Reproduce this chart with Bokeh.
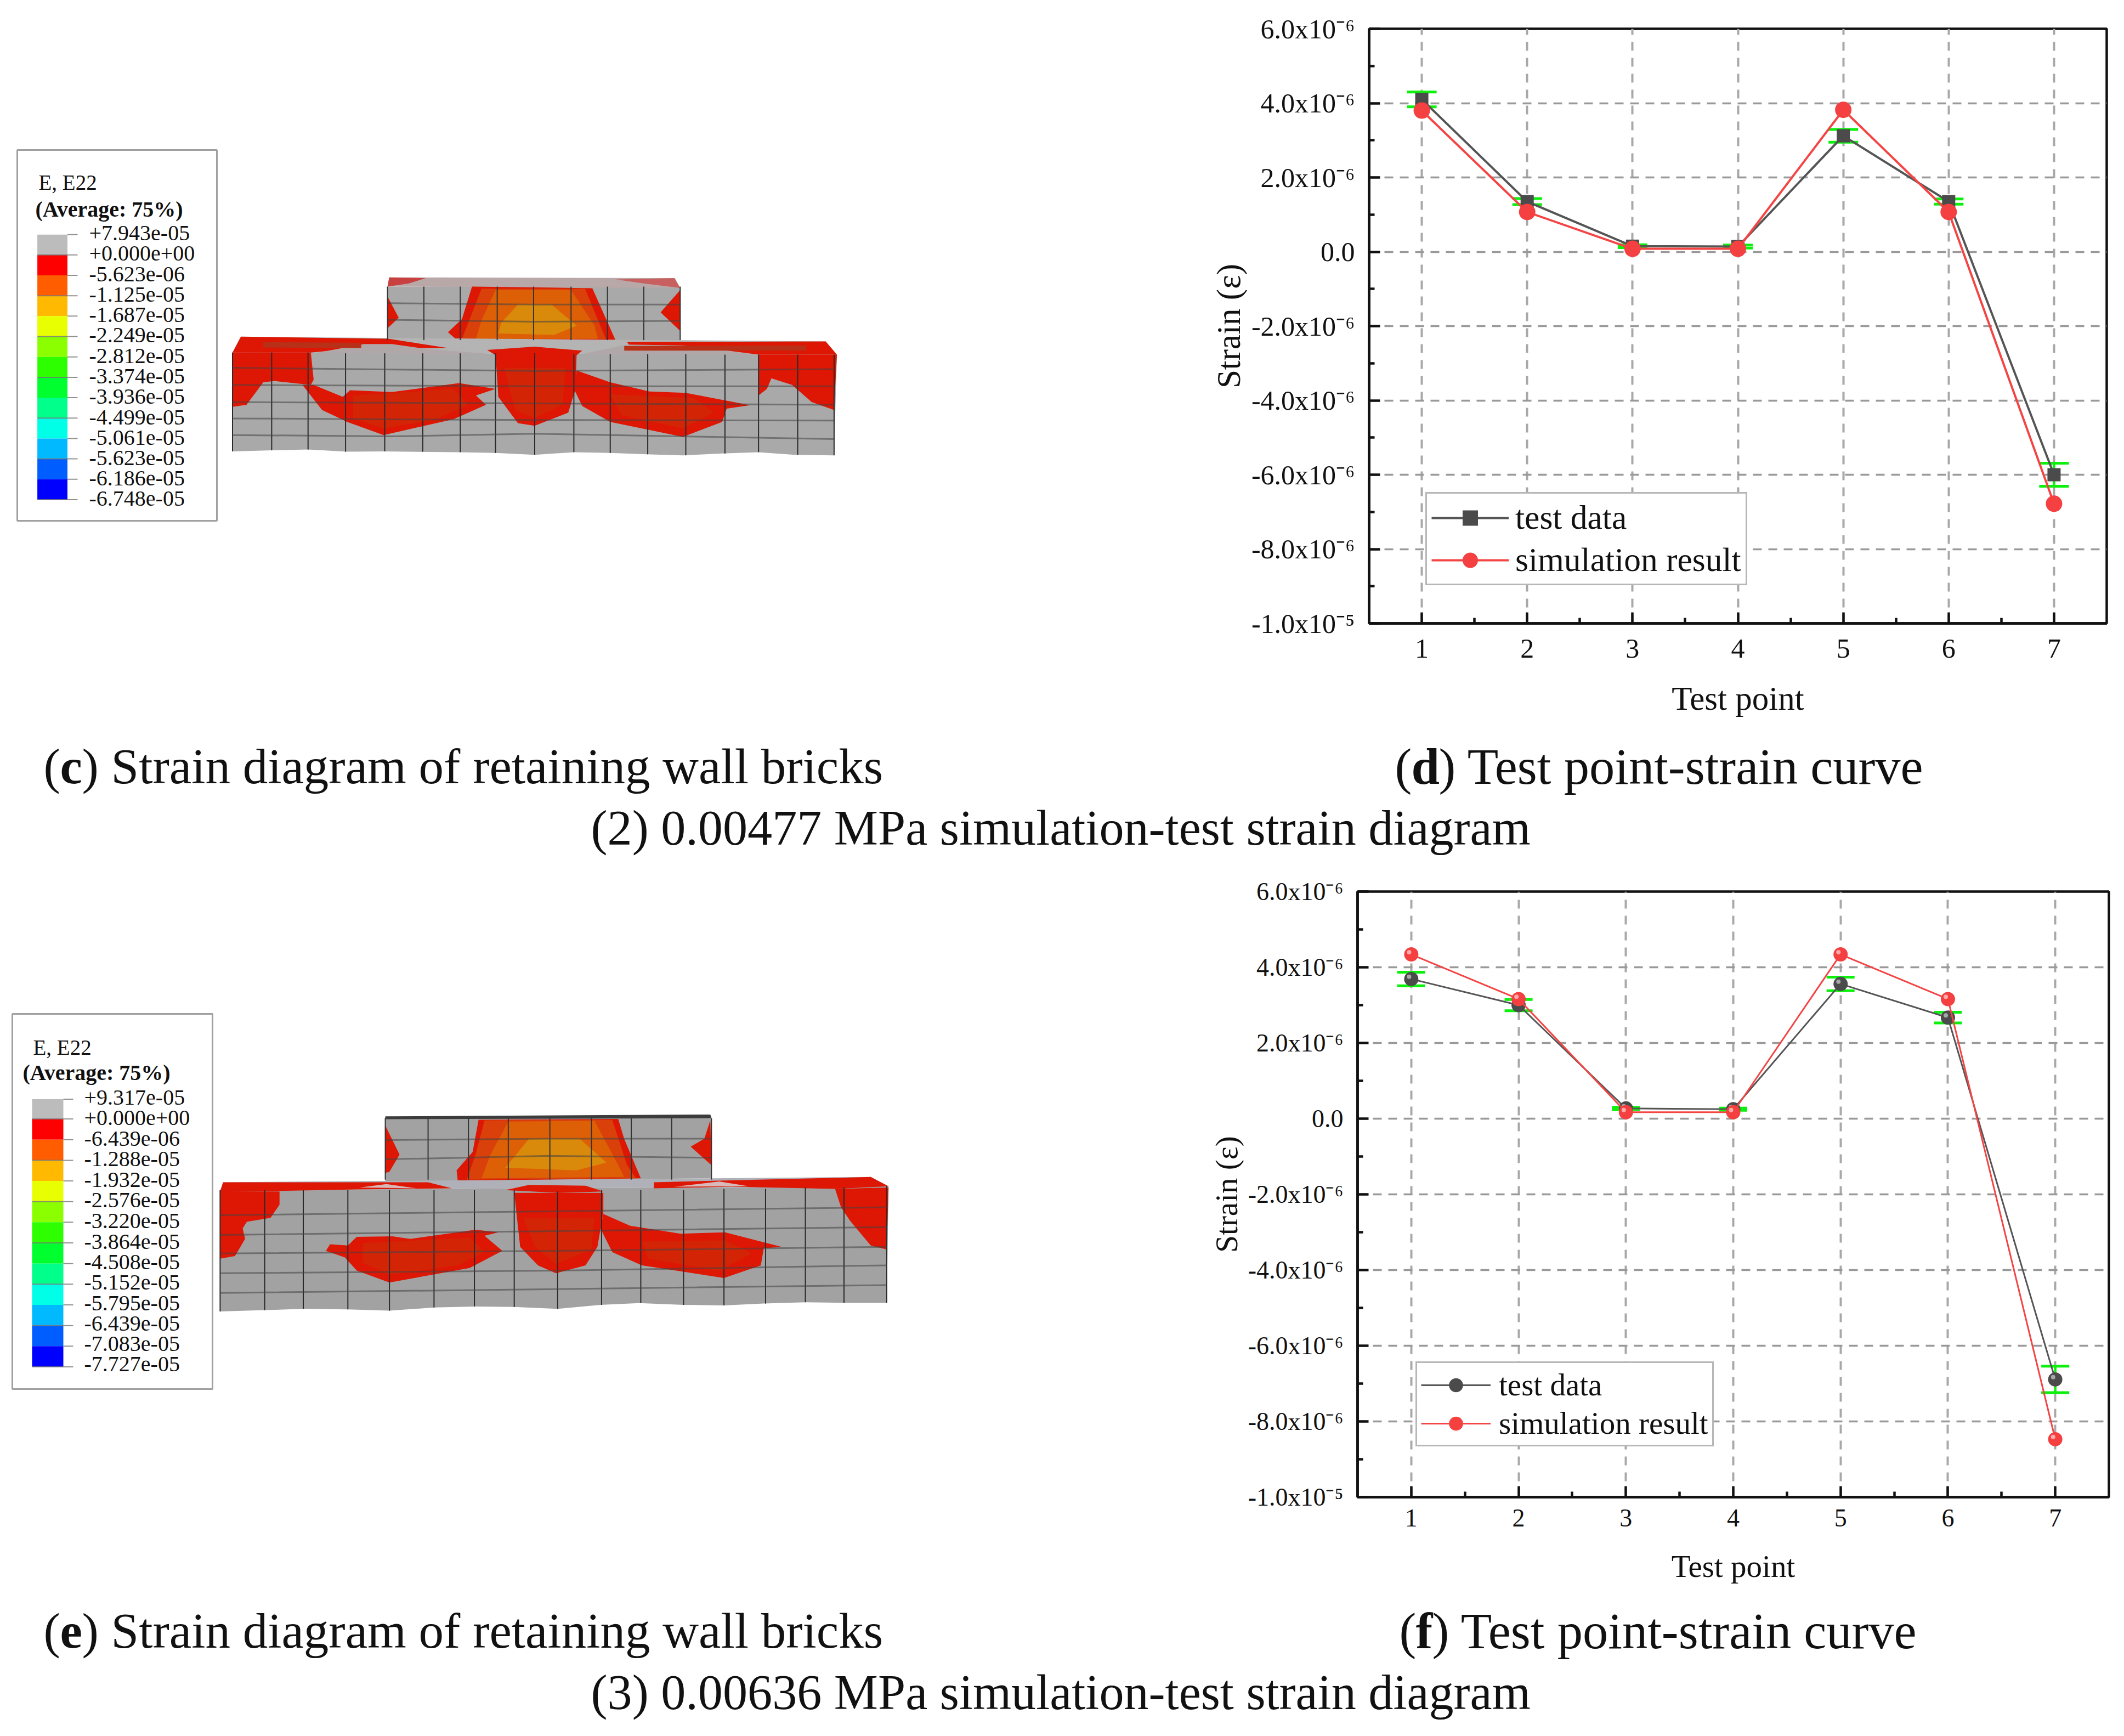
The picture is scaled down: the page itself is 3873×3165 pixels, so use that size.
from bokeh.plotting import figure
from bokeh.layouts import column, row
from bokeh.models import (ColumnDataSource, FixedTicker, Legend, LegendItem, Range1d, Whisker, TeeHead)
from bokeh.core.properties import value
from bokeh.transform import dodge
from bokeh.embed import file_html
from bokeh.resources import INLINE

# ---------- chart data (values in units of 1e-6) ----------
test_points = [1, 2, 3, 4, 5, 6, 7]
d_test = [4.10, 1.35, 0.15, 0.14, 3.12, 1.35, -6.00]
d_err = [0.20, 0.08, 0.04, 0.04, 0.17, 0.07, 0.31]
d_sim = [3.80, 1.07, 0.08, 0.08, 3.82, 1.07, -6.78]
f_test = [3.69, 3.00, 0.27, 0.25, 3.56, 2.67, -6.89]
f_err = [0.18, 0.15, 0.03, 0.03, 0.18, 0.14, 0.35]
f_sim = [4.34, 3.16, 0.17, 0.17, 4.34, 3.16, -8.47]
y_ticks = [-10, -8, -6, -4, -2, 0, 2, 4, 6]
y_minor = [-9, -7, -5, -3, -1, 1, 3, 5]
x_minor = [1.5, 2.5, 3.5, 4.5, 5.5, 6.5]
y_labels = ["-1.0x10⁻⁵", "-8.0x10⁻⁶", "-6.0x10⁻⁶", "-4.0x10⁻⁶", "-2.0x10⁻⁶", "0.0",
            "2.0x10⁻⁶", "4.0x10⁻⁶", "6.0x10⁻⁶"]

# ---------- contour legends ----------
c_labels = ["+7.943e-05", "+0.000e+00", "-5.623e-06", "-1.125e-05", "-1.687e-05", "-2.249e-05", "-2.812e-05",
            "-3.374e-05", "-3.936e-05", "-4.499e-05", "-5.061e-05", "-5.623e-05", "-6.186e-05", "-6.748e-05"]
e_labels = ["+9.317e-05", "+0.000e+00", "-6.439e-06", "-1.288e-05", "-1.932e-05", "-2.576e-05", "-3.220e-05",
            "-3.864e-05", "-4.508e-05", "-5.152e-05", "-5.795e-05", "-6.439e-05", "-7.083e-05", "-7.727e-05"]
contour = ["#bcbcbc", "#ff0000", "#ff5d00", "#ffb900", "#e7ff00", "#8bff00", "#2eff00", "#00ff2e",
           "#00ff8b", "#00ffe7", "#00b9ff", "#005dff", "#0000ff"]

# ---------- brick illustration outlines ----------
GRAY_C, GRAY_E = "#a9a9a9", "#a2a2a2"
RED, RED2, OR1, OR2, OR3 = "#de1604", "#d42406", "#d9400a", "#de6006", "#d98a0a"

c_shapes = [
    ([(692,572),(1215,575),(1215,778),(692,772)], GRAY_C),
    ([(695,537),(1205,540),(1215,577),(692,572)], "#b8a8a8"),
    ([(695,537),(760,540),(730,560),(692,572)], "#c84040"),
    ([(1100,545),(1205,540),(1215,577),(1150,560)], "#c86060"),
    ([(843,572),(1058,578),(1100,778),(815,772),(800,745),(825,695)], RED),
    ([(860,580),(1045,580),(1082,770),(825,770),(838,700)], OR1),
    ([(885,585),(1020,585),(1062,720),(1068,770),(850,770),(860,700)], OR2),
    ([(925,640),(985,640),(1030,720),(990,755),(890,750),(895,710)], OR3),
    ([(692,610),(712,690),(692,730)], RED),
    ([(1215,585),(1180,670),(1215,740)], RED),
    ([(430,762),(1475,780),(1495,830),(415,822)], "#b4b4b4"),
    ([(415,822),(1495,830),(1490,1212),(1420,1210),(1355,1200),(1290,1205),(1220,1212),(1155,1208),(1090,1203),(1025,1200),(955,1210),(885,1203),(820,1200),(685,1197),(620,1198),(550,1190),(485,1193),(415,1197)], GRAY_C),
    ([(430,762),(695,770),(800,805),(640,805),(555,822),(415,822)], RED),
    ([(560,825),(650,790),(700,790),(760,808),(880,828)], "#b0a8a8"),
    ([(870,812),(955,800),(1040,815),(1030,832),(885,832)], RED),
    ([(1120,782),(1475,780),(1495,830),(1355,830),(1300,815),(1130,812)], RED),
    ([(1040,828),(1120,792),(1220,795),(1350,830)], "#b0a8a8"),
    ([(470,782),(645,785),(645,805),(470,803)], "#b83018"),
    ([(1115,797),(1440,795),(1440,815),(1115,815)], "#b83018"),
    ([(415,822),(555,822),(560,925),(555,945),(490,930),(470,935),(440,1020),(415,1028)], RED),
    ([(540,945),(560,945),(612,990),(625,965),(700,972),(820,938),(885,960),(850,985),(868,1020),(810,1075),(685,1135),(620,1085),(575,1040)], RED),
    ([(630,985),(810,960),(835,1020),(780,1075),(685,1110),(630,1070)], RED2),
    ([(885,825),(1030,825),(1028,960),(1015,1050),(955,1100),(925,1090),(890,990)], RED),
    ([(900,880),(1010,880),(1005,1020),(955,1070),(920,1040)], RED2),
    ([(1030,890),(1090,935),(1160,970),(1225,975),(1340,1022),(1298,1035),(1290,1085),(1220,1142),(1090,1085),(1040,1025),(1025,960)], RED),
    ([(1090,980),(1240,995),(1275,1050),(1220,1110),(1110,1060)], RED2),
    ([(1355,830),(1495,830),(1490,1040),(1450,1010),(1415,945),(1378,920),(1370,960),(1355,985)], RED),
]
c_verts_upper = [692, 757, 822, 888, 953, 1020, 1085, 1150, 1215]
c_rows_upper = [[(692,635),(953,640),(1215,640)], [(692,698),(953,705),(1215,702)]]
c_upper_span = (572, 775)
c_verts_lower = [415,485,550,617,687,755,822,885,955,1025,1090,1157,1225,1295,1355,1425,1490]
c_vert_tops = [822,822,822,825,825,825,825,825,825,828,828,828,828,830,830,830,830]
c_vert_bots = [1197,1193,1190,1198,1197,1198,1200,1203,1210,1200,1203,1208,1212,1205,1200,1210,1212]
c_rows_lower = [[(415,880),(955,892),(1490,885)], [(415,945),(955,950),(1490,950)], [(415,1010),(955,1015),(1490,1020)],
                [(415,1072),(955,1078),(1490,1080)], [(415,1135),(700,1140),(955,1130),(1490,1150)]]

e_shapes = [
    ([(648,462),(1197,460),(1197,690),(648,702)], GRAY_E),
    ([(648,455),(1195,448),(1197,462),(648,466)], "#3c3c3c"),
    ([(805,468),(1040,465),(1050,540),(1078,690),(770,700),(768,660),(795,590)], RED),
    ([(815,470),(1030,468),(1055,640),(1070,690),(785,695),(800,600)], OR1),
    ([(855,475),(1000,472),(1040,640),(1050,685),(810,690),(825,600)], OR2),
    ([(890,540),(975,540),(1020,630),(970,660),(850,650)], OR3),
    ([(648,490),(672,600),(655,665),(648,670)], RED),
    ([(1195,470),(1185,540),(1162,570),(1197,640)], RED),
    ([(375,705),(1465,685),(1495,720),(370,735)], "#b0b0b8"),
    ([(370,735),(1495,720),(1492,1162),(1420,1162),(1355,1160),(1285,1165),(1218,1172),(1150,1170),(1075,1163),(1010,1170),(938,1185),(865,1178),(800,1176),(730,1180),(655,1192),(585,1187),(510,1185),(445,1190),(370,1195)], GRAY_E),
    ([(375,705),(720,705),(760,728),(600,732),(370,742)], RED),
    ([(605,725),(650,712),(700,728)], "#d8b8b8"),
    ([(850,735),(890,715),(985,718),(1015,740),(940,745)], RED),
    ([(1100,705),(1465,685),(1495,720),(1405,730),(1230,722),(1100,728)], RED),
    ([(1135,722),(1210,702),(1260,720)], "#d8b8b8"),
    ([(370,740),(470,740),(470,790),(455,840),(415,855),(408,880),(412,920),(395,985),(370,995)], RED),
    ([(548,965),(555,940),(585,945),(600,912),(660,910),(690,920),(800,885),(838,895),(815,908),(845,965),(790,1030),(655,1085),(600,1040),(580,990)], RED),
    ([(610,935),(790,915),(815,970),(770,1020),(655,1055),(610,1010)], RED2),
    ([(865,745),(1015,745),(1015,820),(1005,950),(985,1020),(935,1050),(905,1020),(875,950)], RED),
    ([(880,840),(1000,840),(995,960),(935,1015),(900,950)], RED2),
    ([(1015,825),(1060,870),(1145,900),(1220,895),(1315,950),(1285,955),(1280,1020),(1218,1068),(1080,1020),(1030,970),(1010,880)], RED),
    ([(1080,930),(1220,925),(1265,975),(1210,1040),(1090,995)], RED2),
    ([(1405,730),(1495,725),(1492,960),(1465,945),(1430,850),(1415,800)], RED),
]
e_verts_upper = [648, 720, 788, 855, 925, 995, 1062, 1130, 1197]
e_rows_upper = [[(648,545),(925,540),(1197,540)], [(648,618),(925,605),(1197,612)]]
e_upper_span = (462, 695)
e_verts_lower = [370,445,510,585,655,730,798,865,938,1012,1078,1150,1218,1288,1355,1420,1492]
e_vert_tops = [735,735,735,735,735,735,735,735,740,735,735,735,730,730,725,725,720]
e_vert_bots = [1195,1190,1185,1187,1192,1180,1176,1178,1185,1170,1163,1170,1172,1165,1160,1162,1162]
e_rows_lower = [[(370,830),(938,815),(1492,800)], [(370,905),(938,890),(1492,875)], [(370,975),(938,965),(1492,950)],
                [(370,1050),(938,1040),(1492,1020)], [(370,1125),(938,1110),(1492,1095)]]

caption_c = ["(", "c", ") Strain diagram of retaining wall bricks"]
caption_d = ["(", "d", ") Test point-strain curve"]
caption_e = ["(", "e", ") Strain diagram of retaining wall bricks"]
caption_f = ["(", "f", ") Test point-strain curve"]
caption_2 = "(2) 0.00477 MPa simulation-test strain diagram"
caption_3 = "(3) 0.00636 MPa simulation-test strain diagram"

SERIF = value("Liberation Serif")
LEFT_W = 2200
TOTAL_W = 3870


def canvas(w, h, y_top, y_bottom, border_top, border_bottom):
    p = figure(width=w, height=h, x_range=Range1d(0, w), y_range=Range1d(y_bottom, y_top),
               toolbar_location=None, output_backend="svg", min_border=0,
               min_border_left=0, min_border_right=0, min_border_top=border_top, min_border_bottom=border_bottom)
    p.xaxis.visible = False
    p.yaxis.visible = False
    p.grid.visible = False
    p.outline_line_color = None
    return p


def say(p, x, y, s, size, style="normal", baseline="alphabetic"):
    p.text(x=[x], y=[y], text=[s], text_font=SERIF, text_font_size=value(f"{size}px"), text_line_height=1.0,
           text_font_style=style, text_baseline=baseline, text_align="left", text_color="#111111")


def panel(y0, y1, frame_top, frame_bottom, sx, oy, sy, box, bar, tick_end, label_x, label_ys, labels, head, shapes,
          vu, ru, span, vl, tops, bots, rl):
    p = canvas(LEFT_W, y1 - y0, frame_top, frame_bottom, frame_top - y0, y1 - frame_bottom)
    fx = lambda v: v / sx
    fy = lambda v: oy + v / sy
    p.quad(left=[box[0]], right=[box[1]], top=[box[2]], bottom=[box[3]], fill_color="white",
           line_color="#a0a0a0", line_width=3)
    say(p, *head[0], "E, E22", 39)
    say(p, *head[1], "(Average: 75%)", 40, "bold")
    cy = [fy(v) for v in bar[2]]
    for i, col in enumerate(contour):
        p.quad(left=[bar[0]], right=[bar[1]], top=[cy[i]], bottom=[cy[i + 1]], fill_color=col, line_color=None)
    for i, yy in enumerate(cy):
        p.segment(x0=[bar[1] if i % 2 == 0 else bar[0]], x1=[tick_end], y0=[yy], y1=[yy],
                  line_color="#777777", line_width=2, line_alpha=0.8)
    for yy, s in zip(label_ys, labels):
        say(p, label_x, fy(yy), s, 40, baseline="middle")
    for pts, col in shapes:
        p.patch([fx(a) for a, _ in pts], [fy(b) for _, b in pts], fill_color=col, line_color=None)
    for v in vu:
        p.line([fx(v), fx(v)], [fy(span[0]), fy(span[1])], line_color="#333333", line_width=2)
    for r in ru:
        p.line([fx(a) for a, _ in r], [fy(b) for _, b in r], line_color="#444444", line_width=3, line_alpha=0.55)
    for v, t, b in zip(vl, tops, bots):
        p.line([fx(v), fx(v)], [fy(t), fy(b)], line_color="#2a2a2a", line_width=2)
    for r in rl:
        p.line([fx(a) for a, _ in r], [fy(b) for _, b in r], line_color="#444444", line_width=3, line_alpha=0.55)
    return p


def chart(y0, y1, frame, test, err, sim, marker, msize, lw, font, title_font, legend_cfg, shiny, xstand, ystand):
    x_left, x_right, y_top, y_bottom = frame
    p = figure(width=TOTAL_W - LEFT_W, height=y1 - y0, x_range=Range1d(0.5, 7.5), y_range=Range1d(-10, 6),
               toolbar_location=None, output_backend="svg",
               min_border_left=x_left - LEFT_W, min_border_right=TOTAL_W - x_right,
               min_border_top=y_top - y0, min_border_bottom=y1 - y_bottom)
    p.outline_line_color = "#111111"
    p.outline_line_width = 4.5
    p.background_fill_color = "white"
    p.xaxis.ticker = FixedTicker(ticks=test_points, minor_ticks=x_minor)
    p.yaxis.ticker = FixedTicker(ticks=y_ticks, minor_ticks=y_minor)
    p.yaxis.major_label_overrides = dict(zip(y_ticks, y_labels))
    for ax in (p.xaxis[0], p.yaxis[0]):
        ax.major_tick_in, ax.major_tick_out = 20, 0
        ax.minor_tick_in, ax.minor_tick_out = 10, 0
        ax.major_tick_line_width = 4.5
        ax.minor_tick_line_width = 4.5
        ax.major_tick_line_color = "#111111"
        ax.minor_tick_line_color = "#111111"
        ax.axis_line_color = "#111111"
        ax.axis_line_width = 4.5
        ax.major_label_text_font = "Liberation Serif"
        ax.major_label_text_font_size = f"{font}px"
        ax.major_label_text_color = "#111111"
        ax.axis_label_text_font = "Liberation Serif"
        ax.axis_label_text_font_size = f"{title_font}px"
        ax.axis_label_text_font_style = "normal"
        ax.axis_label_text_color = "#111111"
    p.xaxis.axis_label = "Test point"
    p.yaxis.axis_label = "Strain (ε)"
    p.xaxis.major_label_standoff = xstand
    p.yaxis.major_label_standoff = 26
    p.xaxis.axis_label_standoff = 38
    p.yaxis.axis_label_standoff = ystand
    p.xgrid.ticker = FixedTicker(ticks=test_points)
    p.ygrid.ticker = FixedTicker(ticks=y_ticks)
    p.xgrid.grid_line_color = "#a8a8a8"
    p.ygrid.grid_line_color = "#999999"
    p.xgrid.grid_line_width = 4
    p.ygrid.grid_line_width = 3.5
    p.xgrid.grid_line_dash = "16 13"
    p.ygrid.grid_line_dash = "16 12"

    src = ColumnDataSource(dict(x=test_points, test=test, sim=sim,
                                up=[a + b for a, b in zip(test, err)], lo=[a - b for a, b in zip(test, err)]))
    l1 = p.line("x", "test", source=src, line_color="#555555", line_width=lw)
    m1 = p.scatter("x", "test", source=src, marker=marker, size=msize[0], fill_color="#4b4b4b", line_color=None)
    if shiny:
        p.scatter(dodge("x", -0.02), dodge("test", 0.06), source=src, size=8, fill_color="#a8a8a8", line_color=None)
    l2 = p.line("x", "sim", source=src, line_color="#f44444", line_width=lw)
    m2 = p.scatter("x", "sim", source=src, marker="circle", size=msize[1], fill_color="#f44040", line_color=None)
    if shiny:
        p.scatter(dodge("x", -0.02), dodge("sim", 0.06), source=src, size=8, fill_color="#ffaaaa", line_color=None)
    head = lambda: TeeHead(size=msize[2], line_color="#0cf00c", line_width=5)
    p.add_layout(Whisker(source=src, base="x", upper="up", lower="lo", line_color="#0cf00c", line_width=4.5,
                         upper_head=head(), lower_head=head()))
    lg = Legend(items=[LegendItem(label="test data", renderers=[l1, m1]),
                       LegendItem(label="simulation result", renderers=[l2, m2])],
                location=legend_cfg["loc"], margin=0, padding=legend_cfg["pad"], spacing=legend_cfg["gap"],
                glyph_width=legend_cfg["gw"], glyph_height=legend_cfg["gh"], label_height=legend_cfg["gh"],
                label_standoff=legend_cfg["st"], label_text_font="Liberation Serif",
                label_text_font_size=f"{legend_cfg['fs']}px", label_text_color="#111111",
                border_line_color="#707070", border_line_width=3.5, background_fill_color="white",
                background_fill_alpha=1.0)
    p.add_layout(lg, "center")
    return p


def captions(y0, y1, left, right, mid, y_a, y_b, bold_w_left, bold_w_right, x_left, x_right, x_mid):
    p = canvas(TOTAL_W, y1 - y0, y0, y1, 0, 0)
    for parts, x, bw, fs in ((left, x_left, bold_w_left, 91), (right, x_right, bold_w_right, 92.5)):
        say(p, x, y_a, parts[0], fs)
        say(p, x + 30, y_a, parts[1], fs, "bold")
        say(p, x + 30 + bw, y_a, parts[2], fs)
    say(p, x_mid, y_b, mid, 90.2)
    return p


left1 = panel(0, 1340, 52, 1136, 0.98, 247, 2.08, (31, 395, 273, 949),
              (69 * 0.98, 125 * 0.98, [375, 452] + [452 + 77.33 * i for i in range(1, 13)]),
              141, 162, [370, 447, 525, 603, 680, 757, 835, 912, 990, 1068, 1145, 1222, 1298, 1375], c_labels,
              ((70, 332), (64, 381)), c_shapes, c_verts_upper, c_rows_upper, c_upper_span,
              c_verts_lower, c_vert_tops, c_vert_bots, c_rows_lower)
chart1 = chart(0, 1340, (2496, 3841, 52, 1136), d_test, d_err, d_sim, "square", (24, 30, 54), 4, 50, 61,
               dict(loc=(103, 69), pad=8, gap=6, gw=141, gh=70, st=12, fs=61.5), False, 29, 5)
cap1 = captions(1340, 1590, caption_c, caption_d, caption_2, 1397, 1509, 40, 50, 79, 2543, 1077)
left2 = panel(1590, 2920, 1625, 2729, 0.923, 1816, 2.08, (22, 387, 1848, 2532),
              (58, 115, [390, 465] + [465 + 78.33 * i for i in range(1, 13)]),
              133, 153, [383, 461, 540, 617, 695, 773, 852, 930, 1007, 1085, 1163, 1240, 1318, 1395], e_labels,
              ((60, 1909), (41, 1955)), e_shapes, e_verts_upper, e_rows_upper, e_upper_span,
              e_verts_lower, e_vert_tops, e_vert_bots, e_rows_lower)
chart2 = chart(1590, 2920, (2475, 3845, 1625, 2729), f_test, f_err, f_sim, "circle", (26, 26, 51), 3, 46, 57,
               dict(loc=(106, 92), pad=7, gap=5, gw=127, gh=64, st=15, fs=57), True, 22, 5)
cap2 = captions(2920, 3160, caption_e, caption_f, caption_3, 2973, 3085, 40, 30, 79, 2551, 1077)

page = column(row(left1, chart1), cap1, row(left2, chart2), cap2)
open("out.html", "w").write(file_html(page, INLINE))
